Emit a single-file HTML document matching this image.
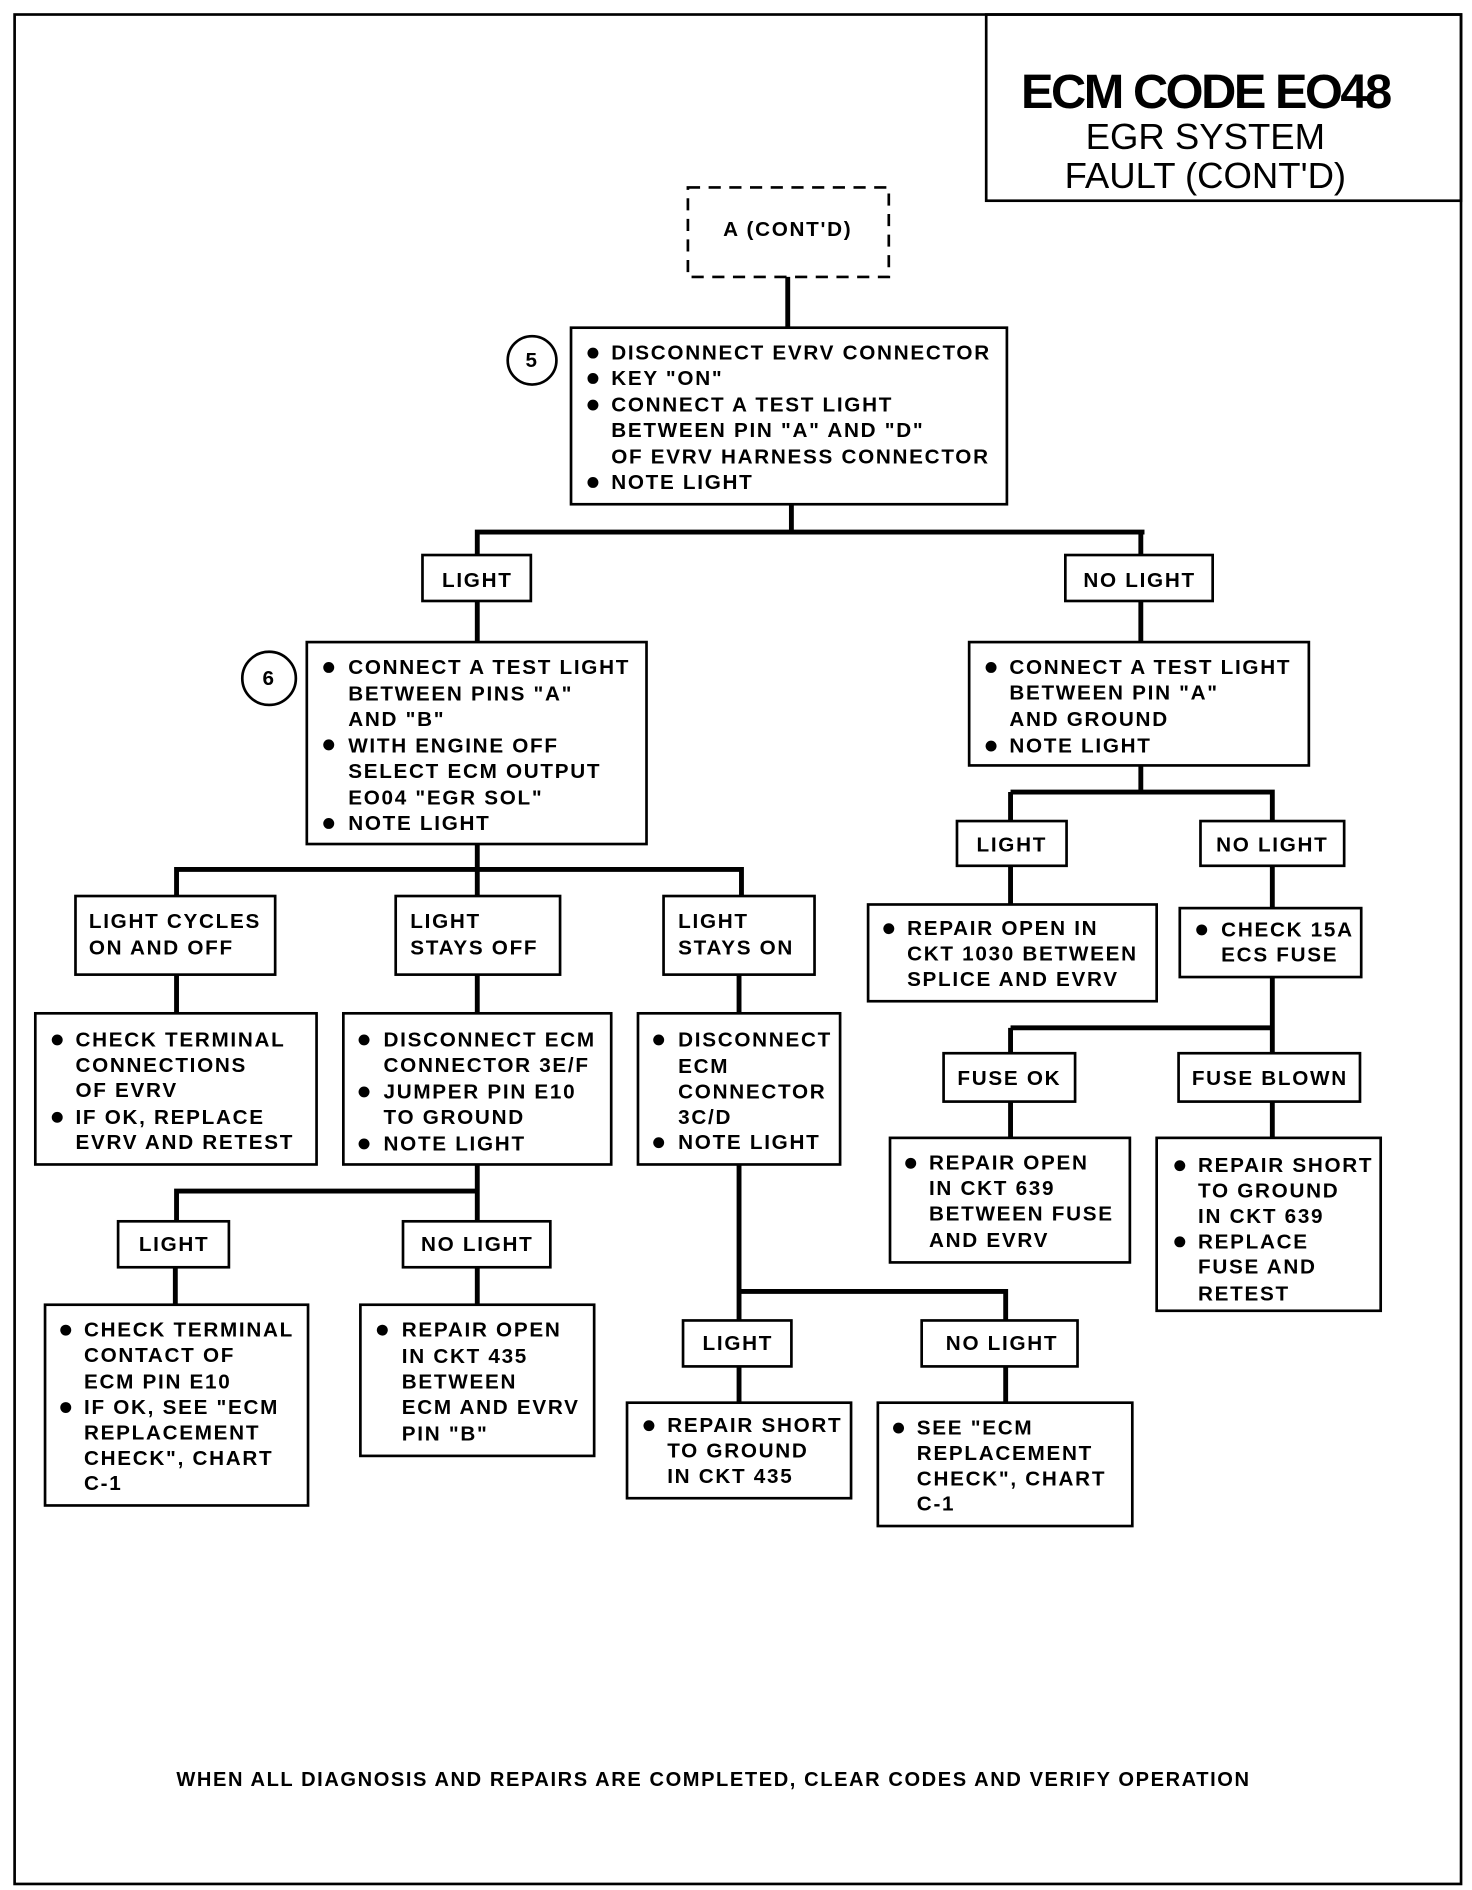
<!DOCTYPE html>
<html><head><meta charset="utf-8"><style>
html,body{margin:0;padding:0;background:#fff;}
svg{display:block;}
text{font-family:"Liberation Sans",sans-serif;font-weight:bold;font-size:17px;letter-spacing:1.4px;fill:#000;dominant-baseline:central;}
.b{fill:none;stroke:#000;stroke-width:2.2;}
.l{stroke:#000;stroke-width:4;fill:none;}
</style></head><body>
<svg width="1472" height="1890" viewBox="0 0 1209 1563" preserveAspectRatio="none" xmlns="http://www.w3.org/2000/svg">
<rect x="0" y="0" width="1209" height="1563" fill="#fff"/>
<rect class="b" x="12" y="12" width="1188" height="1546"/>
<rect class="b" x="810" y="12" width="390" height="154"/>
<text x="990" y="76" text-anchor="middle" style="font-size:40px;letter-spacing:-2px">ECM CODE EO48</text>
<text x="990" y="113" text-anchor="middle" style="font-size:30px;font-weight:normal;letter-spacing:0">EGR SYSTEM</text>
<text x="990" y="145" text-anchor="middle" style="font-size:30px;font-weight:normal;letter-spacing:0">FAULT (CONT'D)</text>

<rect x="565" y="155" width="165" height="74" fill="none" stroke="#000" stroke-width="2.2" stroke-dasharray="10,7"/>
<text x="647" y="190" text-anchor="middle">A (CONT'D)</text>

<g class="l">
<path d="M647 229V271"/>
<path d="M650 417V440M390 440H940M392 440V459M937 440V459"/>
<path d="M392 497V531M937 497V531"/>
<path d="M937 633V655M830 655H1047M830 655V679M1045 655V679"/>
<path d="M830 716V748M1045 716V751M1045 808V850M830 850H1047M830 850V871M1045 850V871"/>
<path d="M830 911V941M1045 911V941"/>
<path d="M392 698V719M143 719H611M145 719V741M392 719V741M609 719V741"/>
<path d="M145 806V838M392 806V838M607 806V838"/>
<path d="M392 963V985M143 985H394M145 985V1010M392 985V1010"/>
<path d="M144 1048V1079M392 1048V1079"/>
<path d="M607 963V1068M605 1068H828M607 1068V1092M826 1068V1092"/>
<path d="M607 1130V1160M826 1130V1160"/>
</g>

<g class="b">
<rect x="469" y="271" width="358" height="146"/>
<rect x="347" y="459" width="89" height="38"/>
<rect x="875" y="459" width="121" height="38"/>
<rect x="252" y="531" width="279" height="167"/>
<rect x="796" y="531" width="279" height="102"/>
<rect x="786" y="679" width="90" height="37"/>
<rect x="986" y="679" width="118" height="37"/>
<rect x="713" y="748" width="237" height="80"/>
<rect x="969" y="751" width="149" height="57"/>
<rect x="775" y="871" width="108" height="40"/>
<rect x="968" y="871" width="149" height="40"/>
<rect x="731" y="941" width="197" height="103"/>
<rect x="950" y="941" width="184" height="143"/>
<rect x="62" y="741" width="164" height="65"/>
<rect x="325" y="741" width="135" height="65"/>
<rect x="545" y="741" width="124" height="65"/>
<rect x="29" y="838" width="231" height="125"/>
<rect x="282" y="838" width="220" height="125"/>
<rect x="524" y="838" width="166" height="125"/>
<rect x="97" y="1010" width="91" height="38"/>
<rect x="331" y="1010" width="121" height="38"/>
<rect x="37" y="1079" width="216" height="166"/>
<rect x="296" y="1079" width="192" height="125"/>
<rect x="561" y="1092" width="89" height="38"/>
<rect x="757" y="1092" width="128" height="38"/>
<rect x="515" y="1160" width="184" height="79"/>
<rect x="721" y="1160" width="209" height="102"/>
<circle cx="437" cy="298" r="20"/>
<circle cx="221" cy="561" r="22"/>
</g>
<text x="437" y="298" text-anchor="middle">5</text>
<text x="221" y="561" text-anchor="middle">6</text>

<g>
<circle cx="487" cy="292" r="4.5"/><circle cx="487" cy="313" r="4.5"/><circle cx="487" cy="335" r="4.5"/><circle cx="487" cy="399" r="4.5"/>
<text x="502" y="292">DISCONNECT EVRV CONNECTOR</text>
<text x="502" y="313">KEY "ON"</text>
<text x="502" y="335">CONNECT A TEST LIGHT</text>
<text x="502" y="356">BETWEEN PIN "A" AND "D"</text>
<text x="502" y="378">OF EVRV HARNESS CONNECTOR</text>
<text x="502" y="399">NOTE LIGHT</text>
</g>
<text x="392" y="480" text-anchor="middle">LIGHT</text>
<text x="936" y="480" text-anchor="middle">NO LIGHT</text>

<g>
<circle cx="270" cy="552" r="4.5"/><circle cx="270" cy="616" r="4.5"/><circle cx="270" cy="681" r="4.5"/>
<text x="286" y="552">CONNECT A TEST LIGHT</text>
<text x="286" y="574">BETWEEN PINS "A"</text>
<text x="286" y="595">AND "B"</text>
<text x="286" y="617">WITH ENGINE OFF</text>
<text x="286" y="638">SELECT ECM OUTPUT</text>
<text x="286" y="660">EO04 "EGR SOL"</text>
<text x="286" y="681">NOTE LIGHT</text>
</g>
<g>
<circle cx="814" cy="552" r="4.5"/><circle cx="814" cy="617" r="4.5"/>
<text x="829" y="552">CONNECT A TEST LIGHT</text>
<text x="829" y="573">BETWEEN PIN "A"</text>
<text x="829" y="595">AND GROUND</text>
<text x="829" y="617">NOTE LIGHT</text>
</g>
<text x="831" y="699" text-anchor="middle">LIGHT</text>
<text x="1045" y="699" text-anchor="middle">NO LIGHT</text>
<circle cx="730" cy="768" r="4.5"/>
<text x="745" y="768">REPAIR OPEN IN</text>
<text x="745" y="789">CKT 1030 BETWEEN</text>
<text x="745" y="810">SPLICE AND EVRV</text>
<circle cx="987" cy="769" r="4.5"/>
<text x="1003" y="769">CHECK 15A</text>
<text x="1003" y="790">ECS FUSE</text>
<text x="829" y="892" text-anchor="middle">FUSE OK</text>
<text x="1043" y="892" text-anchor="middle">FUSE BLOWN</text>
<circle cx="748" cy="962" r="4.5"/>
<text x="763" y="962">REPAIR OPEN</text>
<text x="763" y="983">IN CKT 639</text>
<text x="763" y="1004">BETWEEN FUSE</text>
<text x="763" y="1026">AND EVRV</text>
<circle cx="969" cy="964" r="4.5"/><circle cx="969" cy="1027" r="4.5"/>
<text x="984" y="964">REPAIR SHORT</text>
<text x="984" y="985">TO GROUND</text>
<text x="984" y="1006">IN CKT 639</text>
<text x="984" y="1027">REPLACE</text>
<text x="984" y="1048">FUSE AND</text>
<text x="984" y="1070">RETEST</text>

<text x="73" y="762">LIGHT CYCLES</text>
<text x="73" y="784">ON AND OFF</text>
<text x="337" y="762">LIGHT</text>
<text x="337" y="784">STAYS OFF</text>
<text x="557" y="762">LIGHT</text>
<text x="557" y="784">STAYS ON</text>

<circle cx="47" cy="860" r="4.5"/><circle cx="47" cy="924" r="4.5"/>
<text x="62" y="860">CHECK TERMINAL</text>
<text x="62" y="881">CONNECTIONS</text>
<text x="62" y="902">OF EVRV</text>
<text x="62" y="924">IF OK, REPLACE</text>
<text x="62" y="945">EVRV AND RETEST</text>
<circle cx="299" cy="860" r="4.5"/><circle cx="299" cy="903" r="4.5"/><circle cx="299" cy="946" r="4.5"/>
<text x="315" y="860">DISCONNECT ECM</text>
<text x="315" y="881">CONNECTOR 3E/F</text>
<text x="315" y="903">JUMPER PIN E10</text>
<text x="315" y="924">TO GROUND</text>
<text x="315" y="946">NOTE LIGHT</text>
<circle cx="541" cy="860" r="4.5"/><circle cx="541" cy="945" r="4.5"/>
<text x="557" y="860">DISCONNECT</text>
<text x="557" y="882">ECM</text>
<text x="557" y="903">CONNECTOR</text>
<text x="557" y="924">3C/D</text>
<text x="557" y="945">NOTE LIGHT</text>

<text x="143" y="1029" text-anchor="middle">LIGHT</text>
<text x="392" y="1029" text-anchor="middle">NO LIGHT</text>
<circle cx="54" cy="1100" r="4.5"/><circle cx="54" cy="1164" r="4.5"/>
<text x="69" y="1100">CHECK TERMINAL</text>
<text x="69" y="1121">CONTACT OF</text>
<text x="69" y="1143">ECM PIN E10</text>
<text x="69" y="1164">IF OK, SEE "ECM</text>
<text x="69" y="1185">REPLACEMENT</text>
<text x="69" y="1206">CHECK", CHART</text>
<text x="69" y="1227">C-1</text>
<circle cx="314" cy="1100" r="4.5"/>
<text x="330" y="1100">REPAIR OPEN</text>
<text x="330" y="1122">IN CKT 435</text>
<text x="330" y="1143">BETWEEN</text>
<text x="330" y="1164">ECM AND EVRV</text>
<text x="330" y="1186">PIN "B"</text>

<text x="606" y="1111" text-anchor="middle">LIGHT</text>
<text x="823" y="1111" text-anchor="middle">NO LIGHT</text>
<circle cx="533" cy="1179" r="4.5"/>
<text x="548" y="1179">REPAIR SHORT</text>
<text x="548" y="1200">TO GROUND</text>
<text x="548" y="1221">IN CKT 435</text>
<circle cx="738" cy="1181" r="4.5"/>
<text x="753" y="1181">SEE "ECM</text>
<text x="753" y="1202">REPLACEMENT</text>
<text x="753" y="1223">CHECK", CHART</text>
<text x="753" y="1244">C-1</text>

<text x="586" y="1472" text-anchor="middle" style="font-size:16.5px;letter-spacing:1.3px">WHEN ALL DIAGNOSIS AND REPAIRS ARE COMPLETED, CLEAR CODES AND VERIFY OPERATION</text>
</svg>
</body></html>
